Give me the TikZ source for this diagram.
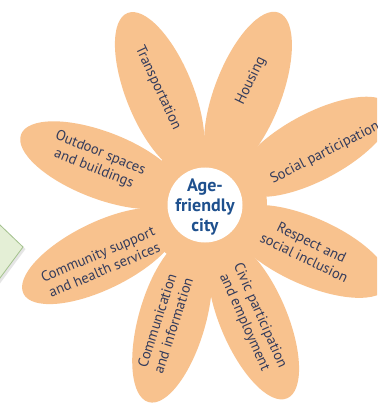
\documentclass[tikz,border=0pt]{standalone}
\usepackage{fontspec}
\setmainfont{PT Sans}
\usetikzlibrary{calc,shapes.geometric}

\definecolor{petalfill}{RGB}{248,194,142}
\definecolor{labelink}{RGB}{52,60,92}
\definecolor{hubink}{RGB}{30,80,142}
\definecolor{boxfill}{RGB}{228,239,214}
\definecolor{boxline}{RGB}{164,194,142}

\tikzset{
  petal/.style={ellipse, fill=petalfill, draw=none, inner sep=0pt,
    minimum width=172pt, minimum height=67pt},
  petallabel/.style={text=labelink, align=center, inner sep=0pt,
    font=\fontsize{14.5}{17}\selectfont},
  hub/.style={circle, fill=white, draw=none, minimum size=75pt, inner sep=0pt},
  hublabel/.style={text=hubink, align=center, inner sep=0pt,
    font=\fontsize{18}{20}\selectfont\bfseries},
}

\begin{document}
\begin{tikzpicture}[x=1pt,y=1pt]
  \useasboundingbox (0,0) rectangle (377,-403);
  \clip (0,0) rectangle (377,-403);
  \fill[white] (0,0) rectangle (377,-403);

  % green card at the left edge, with a soft shadow
  \coordinate (cardtip) at (23,-247);
  \fill[black!10] ($(cardtip)+(2.5,-2)$) -- ++(-46,44) -- ++(-46,-62) -- ++(46,-44) -- cycle;
  \filldraw[fill=boxfill, draw=boxline, line width=0.8pt]
    (cardtip) -- ++(-46,44) -- ++(-46,-62) -- ++(46,-44) -- cycle;

  % flower heart
  \coordinate (c) at (205,-205);
  \fill[petalfill] (c) circle (62);

  % petals
  \node[petal, rotate=112] (p1) at ($(c)+(112:121)$) {};
  \node[petal, rotate=69]  (p2) at ($(c)+(69:120)$) {};
  \node[petal, rotate=28]  (p3) at ($(c)+(28:124)$) {};
  \node[petal, rotate=-24] (p4) at ($(c)+(-24:114)$) {};
  \node[petal, rotate=-67] (p5) at ($(c)+(-67:124)$) {};
  \node[petal, rotate=-106](p6) at ($(c)+(-106:119)$) {};
  \node[petal, rotate=206] (p7) at ($(c)+(206:116)$) {};
  \node[petal, rotate=159] (p8) at ($(c)+(159:111)$) {};

  % centre disc
  \node[hub] (hub) at (c) {};
  \node[hublabel] (hubtext) at (205,-207) {Age-\\friendly\\city};

  % petal labels
  \node[petallabel, rotate=-65] (t1) at (158,-88) {Transportation};
  \node[petallabel, rotate=64]  (t2) at (251,-81) {Housing};
  \node[petallabel, rotate=27]  (t3) at (325,-153) {Social participation};
  \node[petallabel, rotate=-26] (t4) at (308,-250) {Respect and\\social inclusion};
  \node[petallabel, rotate=-66] (t5) at (252,-319) {Civic participation\\and employment};
  \node[petallabel, rotate=72]  (t6) at (165,-323) {Communication\\and information};
  \node[petallabel, rotate=23]  (t7) at (101,-262) {Community support\\and health services};
  \node[petallabel, rotate=-22] (t8) at (97,-161) {Outdoor spaces\\and buildings};
\end{tikzpicture}
\end{document}
